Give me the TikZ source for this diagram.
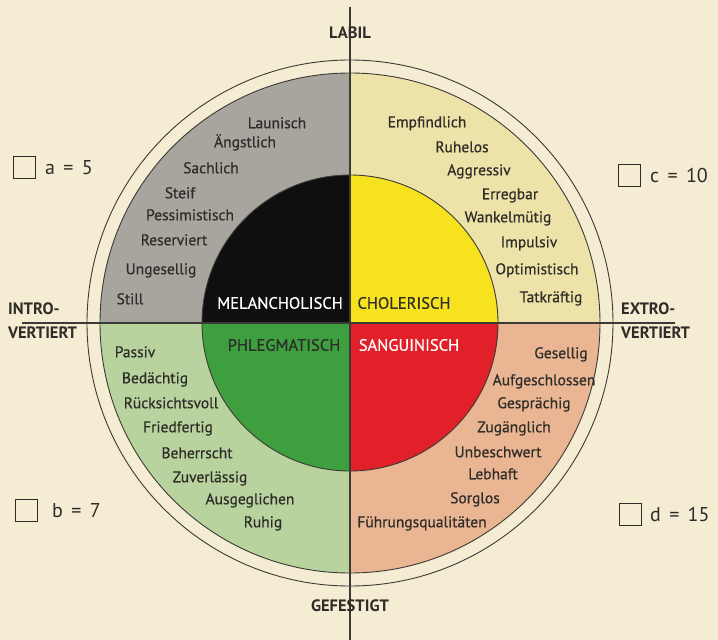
\documentclass[tikz,border=0pt]{standalone}
\usepackage{fontspec}
\setmainfont{PT Sans}
\newfontfamily\traitfont[FakeBold=0.5]{PT Sans}
\definecolor{paper}{RGB}{245,236,212}
\definecolor{inkdark}{RGB}{46,44,40}
\definecolor{rimline}{RGB}{60,58,54}
\definecolor{melout}{RGB}{167,165,158}
\definecolor{cholout}{RGB}{237,227,168}
\definecolor{phlout}{RGB}{184,211,158}
\definecolor{sangout}{RGB}{233,181,146}
\definecolor{melin}{RGB}{15,15,15}
\definecolor{cholin}{RGB}{246,226,29}
\definecolor{phlin}{RGB}{62,159,63}
\definecolor{sangin}{RGB}{226,32,42}

\begin{document}
\begin{tikzpicture}[x=1pt,y=-1pt,
  word/.style={font=\traitfont\fontsize{15.5}{15.5}\selectfont, text=inkdark, inner sep=0pt,
    text height=10.5pt, text depth=0pt},
  type/.style={font=\traitfont\fontsize{16.5}{16.5}\selectfont, inner sep=0pt,
    text height=11.5pt, text depth=0pt},
  axis/.style={font=\bfseries\fontsize{16.5}{16.5}\selectfont, text=inkdark,
    inner sep=0pt, text height=11.5pt, text depth=0pt},
  tick/.style={draw=inkdark, line width=1pt, minimum size=22pt, inner sep=0pt},
  score/.style={font=\fontsize{20}{20}\selectfont, text=inkdark, anchor=west,
    inner sep=0pt, text height=14pt, text depth=0pt}]
  \useasboundingbox (0,0) rectangle (718,640);
  \fill[paper] (0,0) rectangle (718,640);
  \coordinate (O) at (350,323);
  \coordinate (top) at (350,7);
  \coordinate (bottom) at (350,640);
  \coordinate (west) at (22,323);
  \coordinate (east) at (675,323);

  % outer quadrants
  \fill[melout] (O) -- ++(-250pt,0pt) arc[start angle=180, end angle=90, radius=250pt] -- cycle;
  \fill[cholout] (O) -- ++(0pt,250pt) arc[start angle=90, end angle=0, radius=250pt] -- cycle;
  \fill[sangout] (O) -- ++(250pt,0pt) arc[start angle=0, end angle=-90, radius=250pt] -- cycle;
  \fill[phlout] (O) -- ++(0pt,-250pt) arc[start angle=-90, end angle=-180, radius=250pt] -- cycle;
  \draw[rimline, line width=0.9pt] (O) circle[radius=250pt];

  % inner quadrants
  \fill[melin] (O) -- ++(-148pt,0pt) arc[start angle=180, end angle=90, radius=148pt] -- cycle;
  \fill[cholin] (O) -- ++(0pt,148pt) arc[start angle=90, end angle=0, radius=148pt] -- cycle;
  \fill[sangin] (O) -- ++(148pt,0pt) arc[start angle=0, end angle=-90, radius=148pt] -- cycle;
  \fill[phlin] (O) -- ++(0pt,-148pt) arc[start angle=-90, end angle=-180, radius=148pt] -- cycle;
  \draw[rimline, line width=0.9pt] (O) circle[radius=148pt];

  \draw[rimline, line width=0.9pt] (O) circle[radius=263pt];
  \draw[rimline, line width=1.1pt] (top) -- (bottom);
  \draw[rimline, line width=1.1pt] (west) -- (east);

  % axis labels
  \node[axis] (labil) at (350,33) {LABIL};
  \node[axis] (gefestigt) at (350,606) {GEFESTIGT};
  \node[axis, anchor=west] (intro) at (8,309) {INTRO-};
  \node[axis, anchor=west] (introv) at (8,333) {VERTIERT};
  \node[axis, anchor=west] (extro) at (621,309) {EXTRO-};
  \node[axis, anchor=west] (extrov) at (621,333) {VERTIERT};

  % temperaments
  \node[type, text=white] (melancholisch) at (280,303) {MELANCHOLISCH};
  \node[type, text=inkdark] (cholerisch) at (404,303) {CHOLERISCH};
  \node[type, text=inkdark] (phlegmatisch) at (284,345) {PHLEGMATISCH};
  \node[type, text=white] (sanguinisch) at (409,345) {SANGUINISCH};

  % traits
  \foreach \x/\y/\w [count=\i] in {277/123/Launisch, 245/142/Ängstlich,
      211/168/Sachlich, 180/193/Steif, 190/215/Pessimistisch,
      174/240/Reserviert, 161/269/Ungesellig, 130/299/Still}
    \node[word] (mel\i) at (\x,\y) {\w};
  \foreach \x/\y/\w [count=\i] in {427/122/Empfindlich, 462/147/Ruhelos,
      479/170/Aggressiv, 510/194/Erregbar, 508/217/Wankelmütig,
      529/242/Impulsiv, 537/269/Optimistisch, 551/297/Tatkräftig}
    \node[word] (chol\i) at (\x,\y) {\w};
  \foreach \x/\y/\w [count=\i] in {135/352/Passiv, 155/378/Bedächtig,
      171/403/Rücksichtsvoll, 178/427/Friedfertig, 197/453/Beherrscht,
      210/477/Zuverlässig, 250/499/Ausgeglichen, 263/522/Ruhig}
    \node[word] (phl\i) at (\x,\y) {\w};
  \foreach \x/\y/\w [count=\i] in {561/353/Gesellig, 544/380/Aufgeschlossen,
      534/403/Gesprächig, 514/427/Zugänglich, 498/452/Unbeschwert,
      493/474/Lebhaft, 475/498/Sorglos, 422/522/Führungsqualitäten}
    \node[word] (sang\i) at (\x,\y) {\w};

  % scores
  \node[tick] (boxa) at (24,167) {};
  \node[score] (scorea) at (45,167) {a\hspace{3pt} = \hspace{3pt}5};
  \node[tick] (boxb) at (26,510) {};
  \node[score] (scoreb) at (52,510) {b\hspace{3pt} = \hspace{3pt}7};
  \node[tick] (boxc) at (629,175) {};
  \node[score] (scorec) at (650,175) {c\hspace{3pt} = \hspace{3pt}10};
  \node[tick] (boxd) at (630,514) {};
  \node[score] (scored) at (650,514) {d\hspace{3pt} = \hspace{3pt}15};
\end{tikzpicture}
\end{document}
